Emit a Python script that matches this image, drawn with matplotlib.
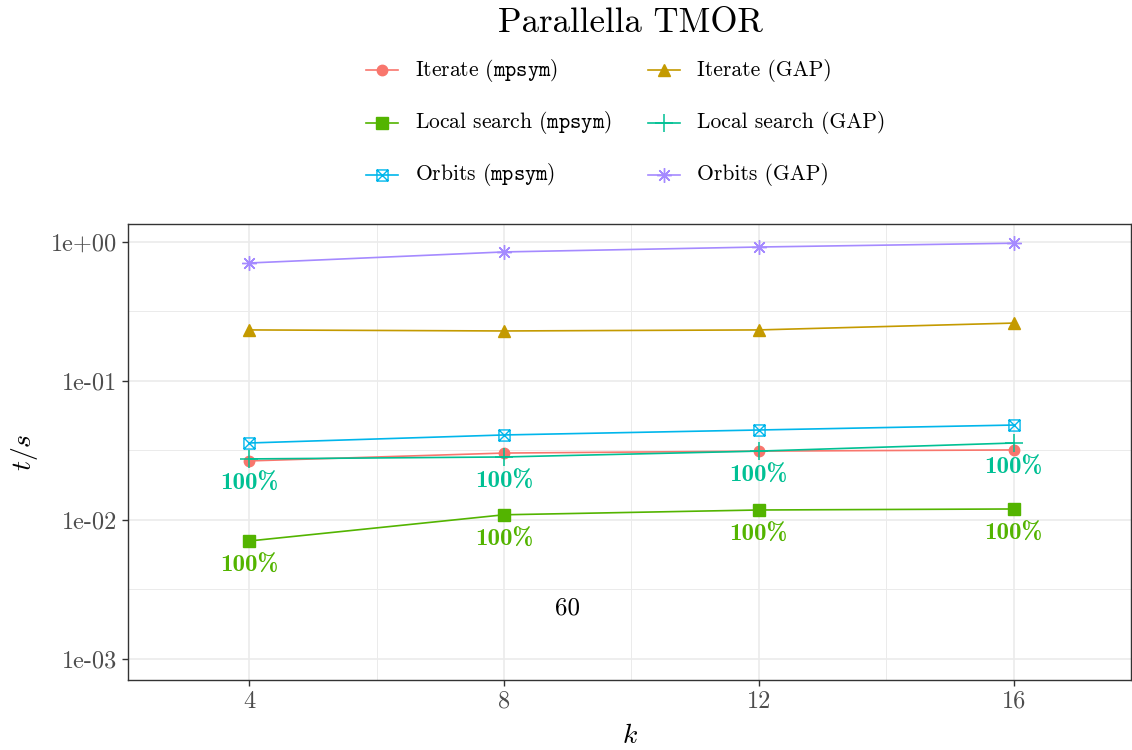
import numpy as np
import matplotlib
matplotlib.use("Agg")
import matplotlib.pyplot as plt
from matplotlib.lines import Line2D
from matplotlib.path import Path
from matplotlib.ticker import FixedLocator, NullFormatter

plt.rcParams["font.family"] = "serif"
plt.rcParams["font.serif"] = ["cmr10"]
plt.rcParams["mathtext.fontset"] = "cm"
plt.rcParams["axes.unicode_minus"] = False

k = [4, 8, 12, 16]
iterate_mpsym = [0.0266, 0.0303, 0.0313, 0.0319]
iterate_gap = [0.233, 0.229, 0.233, 0.261]
local_mpsym = [0.00706, 0.0109, 0.0118, 0.0120]
local_gap = [0.0275, 0.0284, 0.0313, 0.0358]
orbits_mpsym = [0.0358, 0.0409, 0.0444, 0.0482]
orbits_gap = [0.706, 0.848, 0.920, 0.980]
success_labels = ["100%", "100%", "100%", "100%"]

y_ticks = [1e-3, 1e-2, 1e-1, 1e0]
y_tick_labels = ["1e-03", "1e-02", "1e-01", "1e+00"]
x_ticks = [4, 8, 12, 16]

W, H = 1132, 750

# square with a cross inside (ggplot shape 7)
sq_cross = Path(
    [(-1, -1), (1, -1), (1, 1), (-1, 1), (-1, -1), (-1, -1), (1, 1), (-1, 1), (1, -1)],
    [Path.MOVETO, Path.LINETO, Path.LINETO, Path.LINETO, Path.CLOSEPOLY,
     Path.MOVETO, Path.LINETO, Path.MOVETO, Path.LINETO],
)

series = [
    (r"Iterate ($\mathtt{mpsym}$)", iterate_mpsym, "#F8766D", dict(marker="o", ms=7.5)),
    (r"Iterate (GAP)", iterate_gap, "#C49A00", dict(marker="^", ms=9)),
    (r"Local search ($\mathtt{mpsym}$)", local_mpsym, "#53B400", dict(marker="s", ms=8)),
    (r"Local search (GAP)", local_gap, "#00C094", dict(marker="+", ms=13, mew=1.1)),
    (r"Orbits ($\mathtt{mpsym}$)", orbits_mpsym, "#00B6EB", dict(marker=sq_cross, ms=8, mfc="none", mew=1.0)),
    (r"Orbits (GAP)", orbits_gap, "#A58AFF", dict(marker=(8, 2, 0), ms=10.5, mew=1.0)),
]

fig = plt.figure(figsize=(W / 100, H / 100), dpi=100)
ax = fig.add_axes([128 / W, 70 / H, 1003 / W, 456 / H])

for label, vals, color, mk in series:
    ax.plot(k, vals, color=color, lw=1.2, label=label, **mk)

for x, y, s in zip(k, local_gap, success_labels):
    ax.annotate(s, (x, y), xytext=(0, -18), textcoords="offset points",
                ha="center", va="center", color="#00C094", fontsize=18, family="cmb10")
for x, y, s in zip(k, local_mpsym, success_labels):
    ax.annotate(s, (x, y), xytext=(0, -18), textcoords="offset points",
                ha="center", va="center", color="#53B400", fontsize=18, family="cmb10")

ax.text(9, 10 ** -2.633, "60", ha="center", va="center", fontsize=18, color="black")

ax.set_yscale("log")
ax.set_ylim(7.06e-4, 1.347)
ax.set_xlim(2.10, 17.84)
ax.yaxis.set_major_locator(FixedLocator(y_ticks))
ax.set_yticklabels(y_tick_labels)
ax.yaxis.set_minor_locator(FixedLocator([10 ** -2.5, 10 ** -1.5, 10 ** -0.5]))
ax.yaxis.set_minor_formatter(NullFormatter())
ax.set_xticks(x_ticks)
ax.set_xticklabels([str(v) for v in x_ticks])
ax.xaxis.set_minor_locator(FixedLocator([6, 10, 14]))

ax.grid(True, which="major", color="#EBEBEB", lw=1.2)
ax.grid(True, which="minor", color="#EBEBEB", lw=0.7)
ax.set_axisbelow(True)
ax.tick_params(which="major", length=4.5, width=1.0, color="#333333",
               labelsize=17.5, labelcolor="#4D4D4D", pad=3)
ax.tick_params(which="minor", length=0)
for sp in ax.spines.values():
    sp.set_color("#333333")
    sp.set_linewidth(1.0)

ax.set_xlabel(r"$k$", fontsize=20, labelpad=7)
ax.set_ylabel(r"$t/s$", fontsize=20, labelpad=8)

fig.suptitle("Parallella TMOR", x=630 / W, y=0.99, fontsize=25)

# legend drawn by hand so the two columns share row positions (ggplot fills by row)
row_y = [70, 123, 175]
col_x = [366, 648]
for i, (label, vals, color, mk) in enumerate(series):
    r, c = divmod(i, 2)
    x0, yc = col_x[c] / W, 1 - row_y[r] / H
    x1 = (col_x[c] + 32) / W
    fig.add_artist(Line2D([x0, (x0 + x1) / 2, x1], [yc, yc, yc], transform=fig.transFigure,
                          color=color, lw=1.2, markevery=[1], **mk))
    fig.text((col_x[c] + 49) / W, yc, label, ha="left", va="center", fontsize=15.5)

fig.savefig("out.png", dpi=100)
